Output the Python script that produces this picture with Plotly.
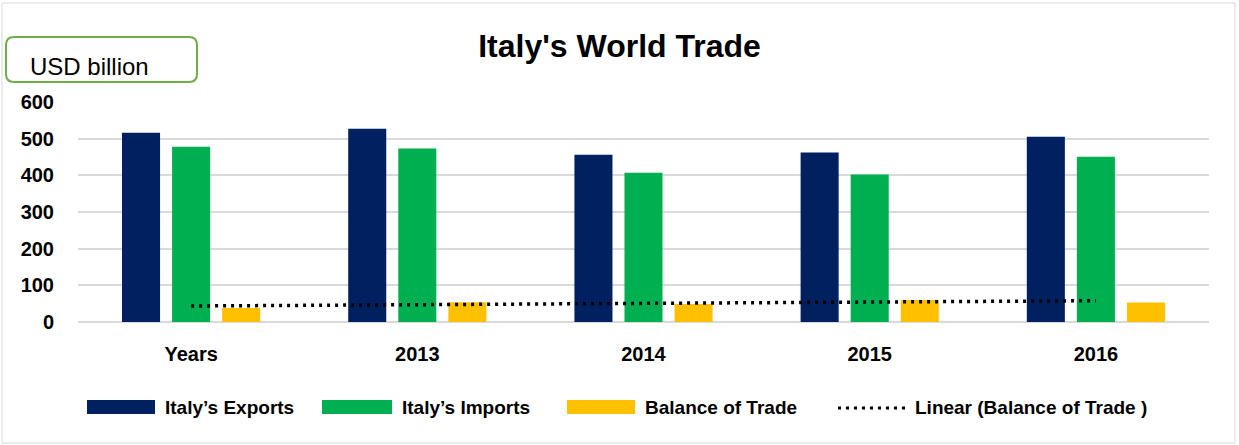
import numpy as np
import plotly.graph_objects as go

categories = ["Years", "2013", "2014", "2015", "2016"]
exports = [516, 527, 456, 462, 505]
imports = [478, 473, 407, 402, 451]
balance = [38, 54, 49, 60, 53]
y_ticks = [0, 100, 200, 300, 400, 500, 600]
series_names = ["Italy\u2019s Exports", "Italy\u2019s Imports", "Balance of Trade"]
trend_name = "Linear (Balance of Trade )"
colors = ["#002060", "#00B050", "#FFC000"]

W, H = 1239, 445
L, R, T, B = 78, 30, 102, 123
PW, PH = W - L - R, H - T - B


def px(x):
    return (x - L) / PW


def py(y):
    return (H - B - y) / PH


FONT = "Liberation Sans"

# linear trendline of balance (least squares, as Excel does)
xi = np.arange(1, len(balance) + 1)
slope, intercept = np.polyfit(xi, balance, 1)
trend = slope * xi + intercept

fig = go.Figure()
for name, vals, c in zip(series_names, [exports, imports, balance], colors):
    fig.add_trace(go.Bar(x=categories, y=vals, name=name, marker=dict(color=c, line=dict(width=0)),
                         showlegend=False))
fig.add_trace(go.Scatter(x=categories, y=trend, mode="lines", name=trend_name,
                         line=dict(color="black", width=3.5, dash="3px,5px"), showlegend=False))

shapes = []
annotations = []

# outer chart border
shapes.append(dict(type="rect", xref="paper", yref="paper", x0=px(2), x1=px(1235), y0=py(3), y1=py(443),
                   line=dict(color="#d9d9d9", width=1), layer="below"))

# rounded box for unit label
x0, x1, y0, y1, r = 6, 197, 37, 82, 8
def P(x, y):
    return f"{px(x)},{py(y)}"
path = (f"M {P(x0 + r, y0)} L {P(x1 - r, y0)} Q {P(x1, y0)} {P(x1, y0 + r)} "
        f"L {P(x1, y1 - r)} Q {P(x1, y1)} {P(x1 - r, y1)} "
        f"L {P(x0 + r, y1)} Q {P(x0, y1)} {P(x0, y1 - r)} "
        f"L {P(x0, y0 + r)} Q {P(x0, y0)} {P(x0 + r, y0)} Z")
shapes.append(dict(type="path", xref="paper", yref="paper", path=path,
                   line=dict(color="#70AD47", width=2), fillcolor="white"))
annotations.append(dict(text="USD billion", xref="paper", yref="paper", x=px(28), y=py(67),
                        xanchor="left", yanchor="middle", showarrow=False,
                        font=dict(family=FONT, size=24, color="black")))

# custom legend
leg_y = 407
swatches = [(87, 155, 163), (322, 392, 400), (567, 635, 643)]
for (sx0, sx1, tx), name, c in zip(swatches, series_names, colors):
    shapes.append(dict(type="rect", xref="paper", yref="paper", x0=px(sx0), x1=px(sx1),
                       y0=py(leg_y - 7), y1=py(leg_y + 7), fillcolor=c, line=dict(width=0)))
    annotations.append(dict(text=name, xref="paper", yref="paper", x=px(tx), y=py(leg_y),
                            xanchor="left", yanchor="middle", showarrow=False,
                            font=dict(family=FONT, size=19, color="black", weight="bold")))
shapes.append(dict(type="line", xref="paper", yref="paper", x0=px(838), x1=px(905),
                   y0=py(leg_y + 1), y1=py(leg_y + 1), line=dict(color="black", width=3, dash="3px,5px")))
annotations.append(dict(text=trend_name, xref="paper", yref="paper", x=px(913), y=py(leg_y),
                        xanchor="left", yanchor="middle", showarrow=False,
                        font=dict(family=FONT, size=19, color="black", weight="bold")))

fig.update_layout(
    width=W, height=H,
    margin=dict(l=L, r=R, t=T, b=B),
    paper_bgcolor="white", plot_bgcolor="white",
    barmode="group", bargap=0.336, bargroupgap=0.24,
    title=dict(text="Italy's World Trade", x=0.5, xanchor="center", xref="container",
               y=1 - 46 / H, yanchor="middle", yref="container",
               font=dict(family=FONT, size=32, color="black", weight="bold")),
    xaxis=dict(type="category", showgrid=False, showline=False, zeroline=False, ticks="",
               tickfont=dict(family=FONT, size=20, color="black", weight="bold"), ticklabelstandoff=18),
    yaxis=dict(range=[0, 600], tickvals=y_ticks, showgrid=True, gridcolor="#d9d9d9", gridwidth=1.5,
               zeroline=True, zerolinecolor="#d9d9d9", zerolinewidth=1.5, showline=False, ticks="",
               tickfont=dict(family=FONT, size=20, color="black", weight="bold"), ticklabelstandoff=23),
    shapes=shapes,
    annotations=annotations,
    showlegend=False,
)

fig.write_html("out.html")
